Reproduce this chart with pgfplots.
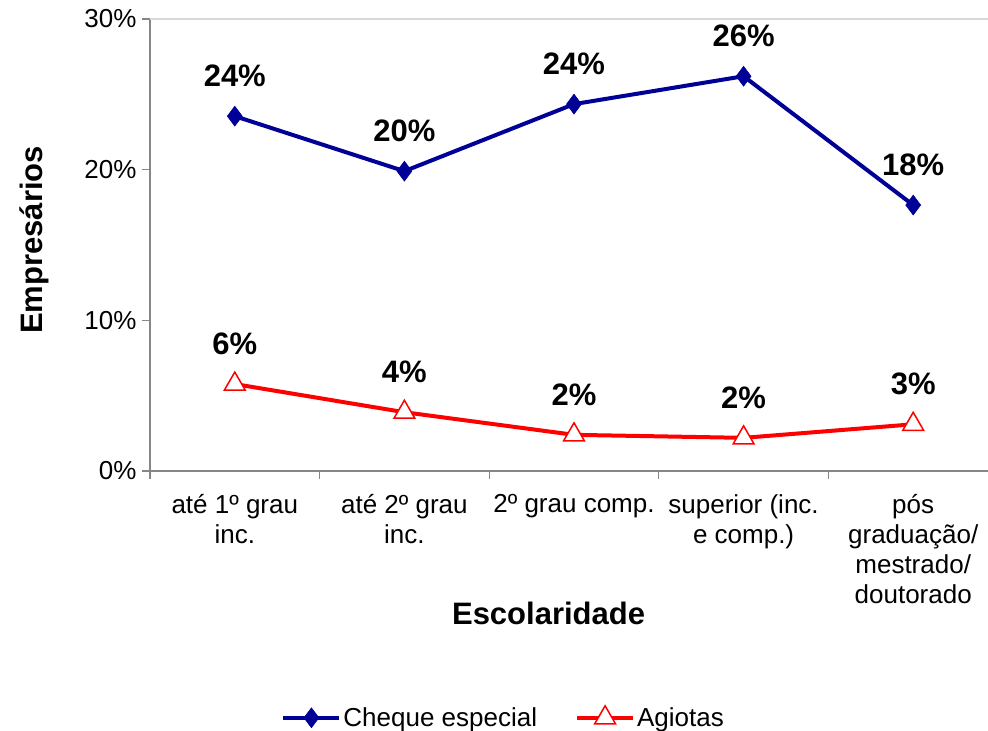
\documentclass[border=0pt]{standalone}
\usepackage{fontspec}
\setmainfont{Liberation Sans}
\usepackage{pgfplots}
\pgfplotsset{compat=1.18}

\definecolor{cheque}{RGB}{0,0,150}
\definecolor{axisgray}{RGB}{134,134,134}

\pgfplotstableread{
x  cheque  agiotas
0  23.55   5.77
1  19.9    3.9
2  24.35   2.4
3  26.2    2.2
4  17.65   3.1
}\datatable

\begin{document}
\begin{tikzpicture}
\begin{axis}[
    name=ax,
    scale only axis,
    width=848pt, height=452pt,
    xmin=-0.5, xmax=4.5,
    ymin=0, ymax=30,
    axis x line=bottom, axis y line=left,
    axis line style={axisgray, line width=1.2pt, -},
    xtick={0,...,4},
    xticklabels={até 1º grau\\inc., até 2º grau\\inc., 2º grau comp., superior (inc.\\e comp.), pós\\graduação/\\mestrado/\\doutorado},
    xticklabel style={align=center, anchor=north, yshift=-12pt, font=\fontsize{26}{30}\selectfont},
    major x tick style={draw=none},
    minor xtick={-0.5,0.5,1.5,2.5,3.5,4.5},
    minor tick length=8pt,
    minor x tick style={axisgray, line width=1.2pt},
    ytick={0,10,20,30},
    yticklabel={\pgfmathprintnumber{\tick}\%},
    /pgf/number format/assume math mode=true,
    yticklabel style={font=\fontsize{26}{30}\selectfont, xshift=-2pt},
    major tick length=8pt,
    major y tick style={axisgray, line width=1.2pt},
    tick align=outside,
    xlabel={Escolaridade},
    xlabel style={font=\bfseries\fontsize{31}{36}\selectfont, at={(axis description cs:0.47,-0.316)}, anchor=center},
    ylabel={Empresários},
    ylabel style={font=\bfseries\fontsize{31}{36}\selectfont, at={(axis description cs:-0.136,0.511)}, anchor=center, rotate=0},
    clip=false,
    nodes near coords={\pgfmathprintnumber[fixed,precision=0]{\pgfplotspointmeta}\%},
    every node near coord/.append style={font=\bfseries\fontsize{31}{36}\selectfont, anchor=center, yshift=40pt, black},
    legend columns=2,
    legend style={draw=none, fill=none, at={(axis description cs:0.417,-0.546)}, anchor=center,
        font=\fontsize{26}{30}\selectfont, column sep=0pt,
        /tikz/every even column/.append style={column sep=36pt}},
    legend image code/.code={\draw[#1, mark repeat=2, mark phase=2] plot coordinates {(0pt,0pt) (28pt,0pt) (56pt,0pt)};},
]
\draw[gray!30, line width=1.2pt] (axis cs:-0.5,30) -- (axis cs:4.5,30);
\addplot[cheque, line width=4pt, mark=diamond*, mark size=10pt, mark options={line width=0.5pt, fill=cheque}]
    table[x=x, y=cheque] {\datatable};
\addlegendentry{Cheque especial}
\addplot[red, line width=4pt, mark=triangle*, mark size=12pt, mark options={line width=1.5pt, fill=white, draw=red}]
    table[x=x, y=agiotas] {\datatable};
\addlegendentry{Agiotas}
\end{axis}
\pgfresetboundingbox
\useasboundingbox ([xshift=-150pt,yshift=-260pt]ax.south west) rectangle ([xshift=-10pt,yshift=19pt]ax.north east);
\end{tikzpicture}
\end{document}
